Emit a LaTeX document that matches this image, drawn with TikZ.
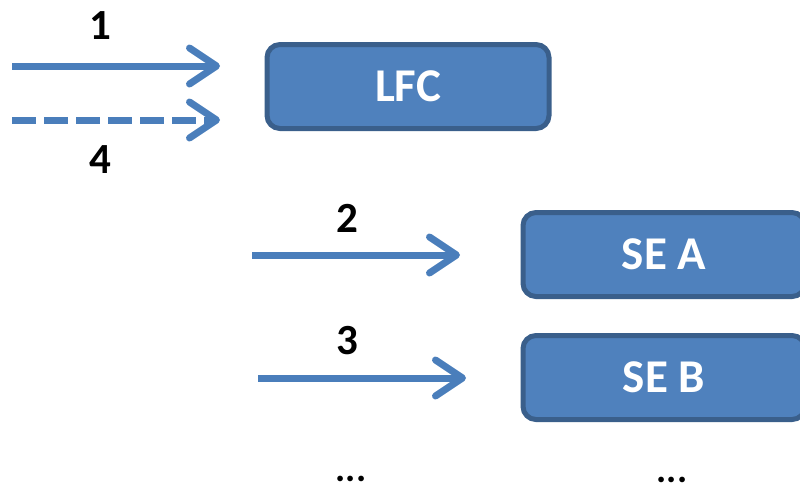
\documentclass[tikz,border=0pt]{standalone}
\usepackage{fontspec}
\setmainfont{Carlito}
\usetikzlibrary{arrows.meta}
\definecolor{boxfill}{HTML}{4F81BD}
\definecolor{boxedge}{HTML}{3A5F8B}
\definecolor{arrowcol}{HTML}{4A7EBB}
\tikzset{
  box/.style={draw=boxedge, fill=boxfill, line width=5pt, rounded corners=13pt,
    minimum width=282pt, minimum height=84pt, text=white,
    font=\fontsize{47}{54}\selectfont\bfseries, inner sep=0pt},
  flow/.style={draw=arrowcol, line width=7pt,
    -{Straight Barb[length=27pt,width=36pt,line cap=round,line join=round]}},
  lbl/.style={font=\fontsize{43}{50}\selectfont\bfseries, text=black, inner sep=0pt},
  dots/.style={font=\fontsize{38}{42}\selectfont\bfseries, text=black, inner sep=0pt}
}
\begin{document}
\begin{tikzpicture}[x=1pt,y=-1pt]
\useasboundingbox (0,0) rectangle (800,491);
\clip (0,0) rectangle (800,491);
\node[box] (lfc) at (408,86.5) {LFC};
\node[box] (sea) at (664,254.5) {SE A};
\node[box] (seb) at (664,377.5) {SE B};
\coordinate (a1s) at (12,66);   \coordinate (a1e) at (220,66);
\coordinate (a4s) at (12,120);  \coordinate (a4e) at (220,120);
\coordinate (a2s) at (252,255); \coordinate (a2e) at (460,255);
\coordinate (a3s) at (258,378); \coordinate (a3e) at (466,378);
\draw[flow] (a1s) -- (a1e);
\draw[flow, dash pattern=on 23.5pt off 8.5pt] (a4s) -- (a4e);
\draw[flow] (a2s) -- (a2e);
\draw[flow] (a3s) -- (a3e);
\node[lbl] (l1) at (100,26) {1};
\node[lbl] (l4) at (100,160) {4};
\node[lbl] (l2) at (347,218) {2};
\node[lbl] (l3) at (347,341) {3};
\node[dots] (d1) at (351,479) {...};
\node[dots] (d2) at (672,480) {...};
\end{tikzpicture}
\end{document}
